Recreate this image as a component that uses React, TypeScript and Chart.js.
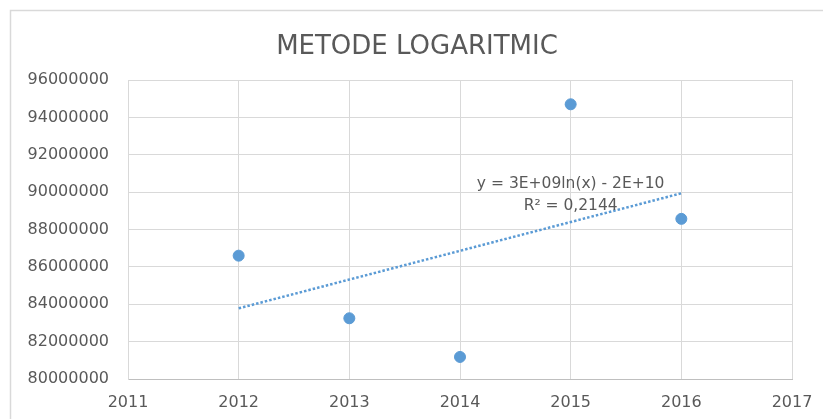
import React, { useEffect, useRef } from "react";
import { Chart, registerables } from "chart.js";

Chart.register(...registerables);

const TITLE = "METODE LOGARITMIC";
const YEARS = [2012, 2013, 2014, 2015, 2016];
const VALUES = [86600000, 83250000, 81180000, 94700000, 88570000];
const EQUATION = "y = 3E+09ln(x) - 2E+10";
const R_SQUARED = "R² = 0,2144";
const X_MIN = 2011;
const X_MAX = 2017;
const Y_MIN = 80000000;
const Y_MAX = 96000000;
const Y_STEP = 2000000;

const BLUE = "#5B9BD5";
const GRAY_TEXT = "#595959";
const GRID = "#D9D9D9";
const FONT = "'DejaVu Sans', sans-serif";

function logTrend(xs: number[], ys: number[]) {
  const lx = xs.map((x) => Math.log(x));
  const n = xs.length;
  const mx = lx.reduce((a, b) => a + b, 0) / n;
  const my = ys.reduce((a, b) => a + b, 0) / n;
  let sxy = 0;
  let sxx = 0;
  for (let i = 0; i < n; i++) {
    sxy += (lx[i] - mx) * (ys[i] - my);
    sxx += (lx[i] - mx) * (lx[i] - mx);
  }
  const a = sxy / sxx;
  const b = my - a * mx;
  return xs.map((x) => ({ x, y: a * Math.log(x) + b }));
}

export default function App() {
  const ref = useRef<HTMLCanvasElement | null>(null);

  useEffect(() => {
    document.body.style.margin = "0";
    const canvas = ref.current;
    if (!canvas) return;

    const decor = {
      id: "decor",
      beforeDraw(chart: any) {
        const ctx = chart.ctx;
        ctx.save();
        ctx.fillStyle = "#ffffff";
        ctx.fillRect(0, 0, chart.width, chart.height);
        ctx.strokeStyle = GRID;
        ctx.lineWidth = 1.5;
        ctx.strokeRect(10.5, 10.5, chart.width + 20, chart.height + 20);
        ctx.restore();
      },
      afterDraw(chart: any) {
        const ctx = chart.ctx;
        const xs = chart.scales.x;
        const ys = chart.scales.y;
        ctx.save();
        ctx.fillStyle = GRAY_TEXT;
        ctx.textAlign = "center";
        ctx.textBaseline = "middle";
        ctx.font = `26px ${FONT}`;
        ctx.fillText(TITLE, 417, 47);
        ctx.font = `15.5px ${FONT}`;
        const cx = xs.getPixelForValue(2015);
        ctx.fillText(EQUATION, cx, ys.getPixelForValue(90430000));
        ctx.fillText(R_SQUARED, cx, ys.getPixelForValue(89250000));
        ctx.restore();
      },
    };

    const chart = new Chart(canvas, {
      type: "scatter",
      data: {
        datasets: [
          {
            label: "trend",
            type: "line",
            data: logTrend(YEARS, VALUES),
            borderColor: BLUE,
            borderWidth: 2.5,
            borderDash: [2.5, 2],
            pointRadius: 0,
            fill: false,
            tension: 0,
          },
          {
            label: "data",
            data: YEARS.map((x, i) => ({ x, y: VALUES[i] })),
            backgroundColor: BLUE,
            borderColor: BLUE,
            pointRadius: 5.5,
          },
        ],
      },
      plugins: [decor],
      options: {
        animation: false,
        responsive: false,
        devicePixelRatio: 1,
        layout: { padding: { top: 80, right: 31, left: 0, bottom: 0 } },
        plugins: {
          legend: { display: false },
          title: { display: false },
          tooltip: { enabled: false },
        },
        scales: {
          x: {
            type: "linear",
            min: X_MIN,
            max: X_MAX,
            afterFit(scale: any) {
              scale.height = 40;
              scale.paddingRight = 0;
              scale.paddingLeft = 0;
            },
            ticks: {
              stepSize: 1,
              color: GRAY_TEXT,
              font: { family: FONT, size: 16 },
              padding: 14,
              maxRotation: 0,
              callback: (v: any) => String(v),
            },
            grid: { color: GRID, lineWidth: 1, drawTicks: false },
            border: { color: "#BFBFBF", width: 1 },
          },
          y: {
            type: "linear",
            min: Y_MIN,
            max: Y_MAX,
            afterFit(scale: any) {
              scale.width = 128;
            },
            ticks: {
              stepSize: Y_STEP,
              color: GRAY_TEXT,
              font: { family: FONT, size: 16 },
              padding: 19,
              callback: (v: any) => String(v),
            },
            grid: { color: GRID, lineWidth: 1, drawTicks: false },
            border: { color: GRID, width: 1 },
          },
        },
      },
    });
    return () => chart.destroy();
  }, []);

  return <canvas ref={ref} width={823} height={419} style={{ display: "block" }} />;
}
